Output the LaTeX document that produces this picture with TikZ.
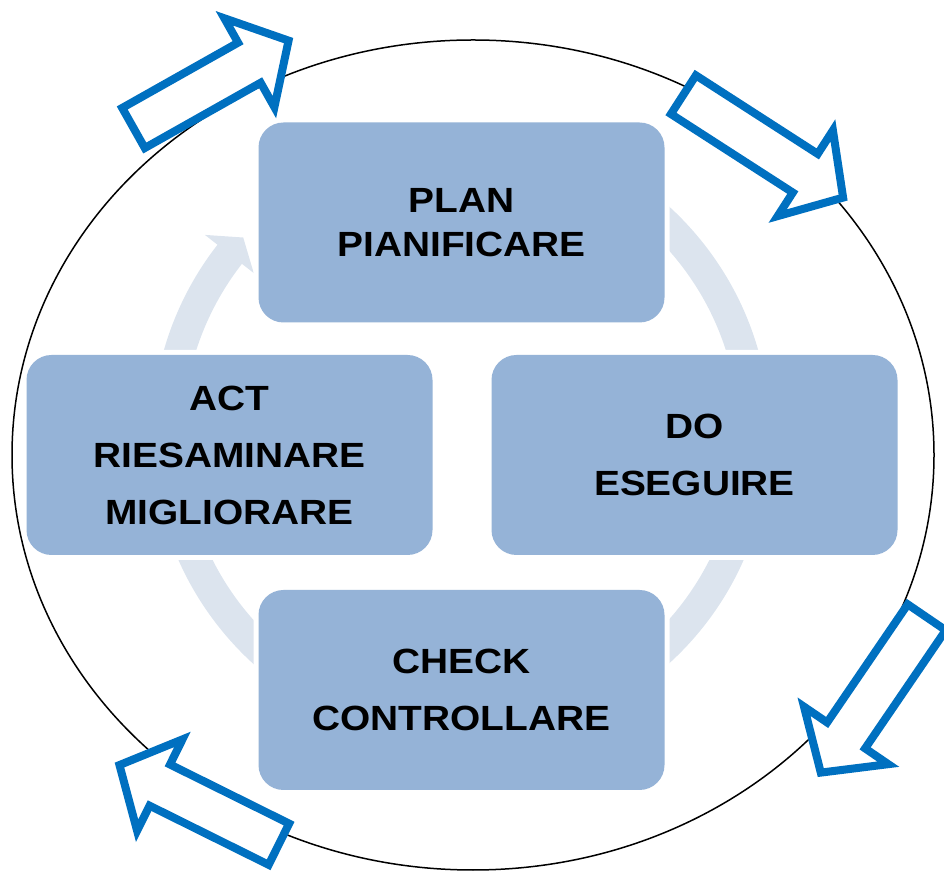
\documentclass[tikz,border=0pt]{standalone}
\usepackage{fontspec}
\newfontfamily\boxfont{Liberation Sans Bold}[FakeStretch=1.11]
\definecolor{boxblue}{RGB}{149,179,215}
\definecolor{ringblue}{RGB}{220,228,238}
\definecolor{arrowblue}{RGB}{0,112,192}
\begin{document}
\begin{tikzpicture}[x=1pt,y=1pt,
  stage/.style={rectangle, rounded corners=25pt, fill=boxblue,
    minimum width=406pt, minimum height=200pt, inner sep=0pt,
    align=center, text=black, preaction={draw=white, line width=10pt}},
  twoline/.style={font=\boxfont\fontsize{35}{43.5}\selectfont},
  wideline/.style={font=\boxfont\fontsize{35}{57}\selectfont},
  ringband/.style={fill=ringblue},
  outline/.style={draw=black, line width=1.5pt},
  pics/blockarrow/.style={code={
    \draw[draw=arrowblue, line width=8pt, fill=white, miter limit=10]
      (0,23) -- (#1-45,23) -- (#1-45,51) -- (#1,0) -- (#1-45,-51)
      -- (#1-45,-23) -- (0,-23) -- cycle;}}
]
\useasboundingbox (0,0) rectangle (944,872);
\clip (0,0) rectangle (944,872);

% surrounding ellipse
\coordinate (mid) at (473,417);
\draw[outline] (mid) ellipse [x radius=461, y radius=415];

% the cycle ring behind the four stages
\coordinate (ctr) at (461,437);
\begin{scope}[shift={(ctr)}]
  \fill[ringband] (180:309) arc[start angle=180, end angle=142, radius=309]
    -- (142:325) -- (137.8:294) -- (142:263) -- (142:278)
    arc[start angle=142, end angle=180, radius=278] -- cycle;
  \fill[ringband] (128:309) arc[start angle=128, end angle=-180, radius=309]
    -- (-180:278) arc[start angle=-180, end angle=128, radius=278] -- cycle;
\end{scope}

% the four stages
\node[stage, twoline]  (plan)  at (461.5,649.5) {PLAN\\PIANIFICARE};
\node[stage, wideline] (do)    at (694.5,417)   {DO\\ESEGUIRE};
\node[stage, wideline] (check) at (461.5,182)   {CHECK\\CONTROLLARE};
\node[stage, wideline] (act)   at (229.5,417)   {ACT\\RIESAMINARE\\MIGLIORARE};

% outer block arrows turning clockwise
\pic[rotate=29.4]   at (133.5,744)   {blockarrow=178};
\pic[rotate=-32.8]  at (683.4,777.3) {blockarrow=190};
\pic[rotate=-124.3] at (926.7,254.7) {blockarrow=188};
\pic[rotate=153.6]  at (278.9,27.8)  {blockarrow=178};
\end{tikzpicture}
\end{document}
